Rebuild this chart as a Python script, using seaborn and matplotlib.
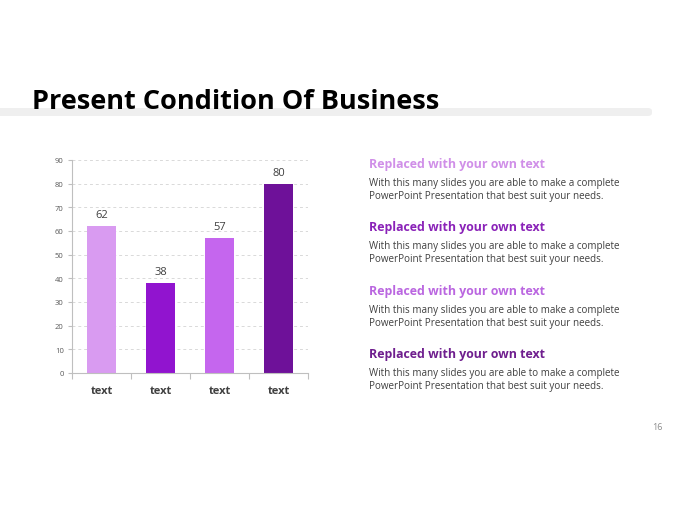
import matplotlib
matplotlib.use("Agg")
import matplotlib.pyplot as plt
from matplotlib.patches import FancyBboxPatch
import seaborn as sns
import pandas as pd

categories = ["text", "text", "text", "text"]
values = [62, 38, 57, 80]
bar_colors = ["#D99BF1", "#9114CF", "#C566EE", "#6E1199"]
yticks = [0, 10, 20, 30, 40, 50, 60, 70, 80, 90]

title = "Present Condition Of Business"
headings = ["Replaced with your own text"] * 4
heading_colors = ["#D08FE8", "#8A22B8", "#BA66E0", "#6F1E8E"]
body = "With this many slides you are able to make a complete\nPowerPoint Presentation that best suit your needs."
page_no = "16"

sns.set_theme(style="white")
plt.rcParams['font.family'] = ['Open Sans', 'DejaVu Sans']

fig = plt.figure(figsize=(6.8, 5.1), dpi=100)
fig.patch.set_facecolor("white")

# grey band behind title
band = FancyBboxPatch((-0.02, 1 - 117/510), 652/680 + 0.02, 8/510,
                      boxstyle="round,pad=0,rounding_size=0.006",
                      transform=fig.transFigure, facecolor="#EFEFEF",
                      edgecolor="none", zorder=0)
fig.patches.append(band)
fig.text(32/680, 1 - 102.5/510, title, fontsize=19.5, fontweight="bold",
         color="black", va="center", ha="left")

ax = fig.add_axes([72/680, 1 - 374/510, 236/680, 213/510])
df = pd.DataFrame({"idx": range(len(values)), "value": values})
sns.barplot(data=df, x="idx", y="value", hue="idx", palette=bar_colors,
            legend=False, width=0.5, ax=ax, saturation=1, linewidth=0)
ax.set_xlim(-0.5, len(values) - 0.5)
ax.set_ylim(0, 90)
ax.set_yticks(yticks)
ax.set_yticklabels([str(t) for t in yticks], fontsize=5.5, color="#595959")
ax.set_xticks(range(len(values)))
ax.set_xticklabels(categories, fontsize=8, fontweight="bold", color="#404040")
ax.set_xlabel("")
ax.set_ylabel("")
ax.set_xticks([i - 0.5 for i in range(len(values) + 1)], minor=True)
ax.tick_params(axis="x", which="major", length=0, pad=9)
ax.tick_params(axis="x", which="minor", length=4, width=0.8, color="#BFBFBF", direction="out", bottom=True)
ax.tick_params(axis="y", length=3, width=0.8, color="#BFBFBF", left=True, pad=3)
ax.yaxis.grid(True, linestyle=(0, (3, 3)), color="#D9D9D9", linewidth=0.7)
ax.set_axisbelow(True)
for s in ["top", "right"]:
    ax.spines[s].set_visible(False)
for s in ["left", "bottom"]:
    ax.spines[s].set_color("#BFBFBF")
    ax.spines[s].set_linewidth(0.8)
for i, v in enumerate(values):
    ax.text(i, v + 2.5, str(v), ha="center", va="bottom", fontsize=8, color="#404040")

head_y = [165, 228, 292, 355]
for hy, h, hc in zip(head_y, headings, heading_colors):
    fig.text(369/680, 1 - hy/510, h, fontsize=8.9, fontweight="bold", color=hc,
             va="center", ha="left")
    fig.text(369/680, 1 - (hy + 25)/510, body, fontsize=7.1, color="#404040",
             va="center", ha="left", linespacing=1.3)

fig.text(663/680, 1 - 428/510, page_no, fontsize=6.5, color="#8C8C8C", ha="right", va="center")

fig.savefig("out.png", dpi=100, facecolor="white")
